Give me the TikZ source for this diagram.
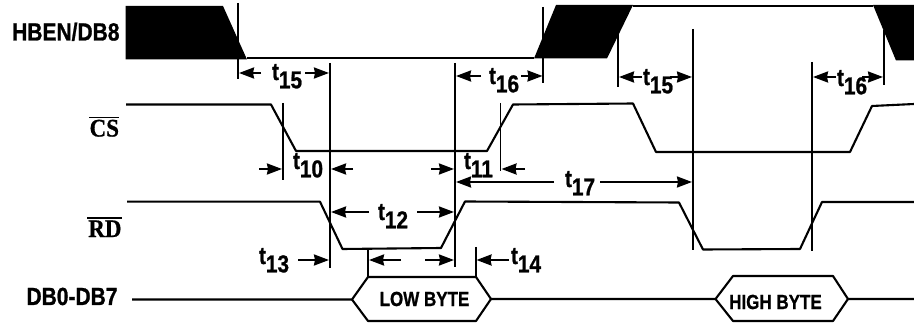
\documentclass[tikz,border=0pt]{standalone}
\usepackage{fontspec}
\setmainfont[BoldFeatures={FakeBold=1.1}]{Liberation Sans}
\newfontfamily\serifb[BoldFeatures={FakeBold=0.8}]{Liberation Serif}
\usetikzlibrary{arrows.meta}
\newcommand{\fsz}[1]{\fontsize{#1}{#1}\selectfont}
\newcommand{\tlab}[1]{\bfseries\fsz{20}\scalebox{1.04}[1.22]{t\raisebox{-6.8pt}{#1}}}
\newcommand{\tall}[2][1.18]{\scalebox{1}[#1]{#2}}
\tikzset{
  wave/.style={line width=2.1pt,line join=round},
  guide/.style={line width=1.9pt},
  dim/.style={line width=2.1pt,-{Stealth[length=15pt,width=11pt,inset=1pt]}},
  tl/.style={anchor=base west,inner sep=0pt,outer sep=0pt},
  sig/.style={anchor=base east,inner sep=0pt,outer sep=0pt,font=\bfseries\fsz{21}},
  over/.style={anchor=base east,inner sep=0pt,outer sep=0pt,font=\serifb\bfseries\fsz{23}},
  byte/.style={anchor=base,inner sep=0pt,outer sep=0pt,font=\bfseries\fsz{17}},
  bar/.style={line width=1.8pt}
}
\begin{document}
\begin{tikzpicture}[x=1pt,y=-1pt]
\useasboundingbox (0,0) rectangle (914,326);
% HBEN/DB8 waveform
\fill (125.5,6) -- (223,6) -- (247,59.5) -- (125.5,59.5) -- cycle;
\fill (534,58.5) -- (556,5) -- (633,5) -- (607,58.5) -- cycle;
\fill (873,5) -- (914,5) -- (914,60.5) -- (896,60.5) -- cycle;
\draw[wave] (247,58) -- (534,58);
\draw[wave] (633,6) -- (873,6);
% CS
\draw[wave] (126,104.5) -- (271,104.5) -- (296,151) -- (487,151) -- (513,104.5) -- (633,103.5) -- (656,152) -- (850,152) -- (872,106) -- (914,104);
% RD
\draw[wave] (127,201.7) -- (320,201.7) -- (342.5,249) -- (441,248) -- (465,201.5) -- (679,202.5) -- (703,249.5) -- (800,249) -- (822,202) -- (914,202);
% DB
\draw[wave] (132,299.5) -- (352,299.5) -- (368,277) -- (476,277) -- (491,299) -- (715.5,299) -- (733,276) -- (833,276) -- (848,299) -- (914,299);
\draw[wave] (352,299.5) -- (368,321) -- (476,321) -- (491,299);
\draw[wave] (715.5,299) -- (733,321) -- (833,321) -- (848,299);
% guides
\draw[guide] (238,3) -- (238,79);
\draw[guide] (330,63) -- (330,268);
\draw[guide] (455,63) -- (455,267);
\draw[guide] (543.3,7) -- (543.3,83);
\draw[guide] (283,103) -- (283,180);
\draw[guide] (500.5,103) -- (500.5,171);
\draw[guide] (618,28) -- (618,87);
\draw[guide] (693,29) -- (693,250);
\draw[guide] (811.7,62) -- (811.7,251);
\draw[guide] (884,30) -- (884,85);
\draw[guide] (368,249) -- (368,277);
\draw[guide] (475.7,247) -- (475.7,277);
% dimension arrows
\draw[dim] (261,73) -- (239,73);
\draw[dim] (305,73) -- (329,73);
\draw[dim] (481,76) -- (456,76);
\draw[dim] (521,76) -- (542.5,76);
\draw[dim] (642,77) -- (619,77);
\draw[dim] (670,77) -- (692,77);
\draw[dim] (836,77) -- (813,77);
\draw[dim] (862,77) -- (883,77);
\draw[dim] (259,169) -- (282,169);
\draw[dim] (353,169) -- (331,169);
\draw[dim] (431,169) -- (454,169);
\draw[dim] (525,169) -- (501.5,169);
\draw[dim] (554,182) -- (456,182);
\draw[dim] (600,182) -- (692,182);
\draw[dim] (369,212) -- (331,212);
\draw[dim] (417,212) -- (454,212);
\draw[dim] (298,260) -- (329,260);
\draw[dim] (401,260) -- (369,260);
\draw[dim] (425,260) -- (454,260);
\draw[dim] (509,260) -- (476.5,260);
% labels
\node[sig] (hben) at (119.5,40.5) {\tall{HBEN/DB8}};
\node[over] (cs) at (119,136.5) {\tall[1.1]{CS}};
\node[over] (rd) at (121.5,237) {\tall[1.1]{RD}};
\node[sig] (db) at (117.5,305) {\tall{DB0-DB7}};
\node[byte] (low) at (424.5,306) {\tall[1.2]{LOW BYTE}};
\node[byte] (high) at (775.5,309) {\tall[1.2]{HIGH BYTE}};
\node[tl] (a) at (272,80) {\tlab{15}};
\node[tl] (b) at (489,84) {\tlab{16}};
\node[tl] (c) at (643,85) {\tlab{15}};
\node[tl] (d) at (837,86) {\tlab{16}};
\node[tl] (e) at (293,169) {\tlab{10}};
\node[tl] (f) at (464,169) {\tlab{11}};
\node[tl] (g) at (378,220) {\tlab{12}};
\node[tl] (h) at (259,264) {\tlab{13}};
\node[tl] (i) at (511,264) {\tlab{14}};
\node[tl] (j) at (565,187) {\tlab{17}};
\draw[bar] (89,117.5) -- (119,117.5);
\draw[bar] (87,218) -- (122,218);
\end{tikzpicture}
\end{document}
